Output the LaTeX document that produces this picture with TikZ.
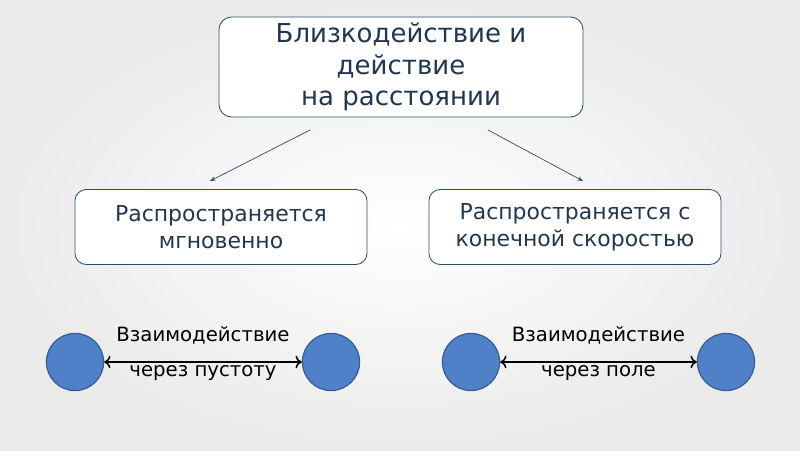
\documentclass[tikz,border=0pt]{standalone}
\usepackage{fontspec}
\setmainfont{DejaVu Sans}
\usetikzlibrary{positioning,arrows.meta}
\definecolor{inkblue}{RGB}{33,55,80}
\definecolor{boxline}{RGB}{45,80,105}
\definecolor{ballfill}{RGB}{79,129,200}
\definecolor{ballline}{RGB}{52,90,145}
\begin{document}
\begin{tikzpicture}[x=0.025cm,y=-0.025cm,
  big box/.style={draw=boxline,fill=white,rounded corners=9pt,line width=0.6pt,
    text=inkblue,align=center,font=\fontsize{18.5}{22.4}\selectfont},
  small box/.style={draw=boxline,fill=white,rounded corners=8pt,line width=0.6pt,
    text=inkblue,align=center,font=\fontsize{15.6}{19.2}\selectfont,
    minimum width=7.3cm,minimum height=1.875cm},
  ball/.style={circle,fill=ballfill,draw=ballline,line width=0.8pt,
    minimum size=1.43cm,inner sep=0pt},
  link/.style={->,>={Stealth[length=4pt,width=3pt]},draw=boxline,line width=0.5pt},
  both/.style={<->,>={To[length=4.5pt,width=9pt]},line width=1.1pt},
  word/.style={inner sep=0pt,font=\fontsize{14}{16}\selectfont}]
% background
  \shade[inner color=white,outer color=black!8] (0,0) rectangle (800,450);
  \useasboundingbox (0,0) rectangle (800,450);
%top
  \node[big box,minimum width=9.1cm,minimum height=2.5cm] (top) at (401,67)
    {Близкодействие и\\действие\\на расстоянии};
%children
  \node[small box] (near) at (221,227) {Распространяется\\мгновенно};
  \node[small box] (far) at (575,227) {Распространяется с\\конечной скоростью};
%arrows
  \coordinate (s1) at (310,130);
  \coordinate (e1) at (210,181);
  \coordinate (s2) at (488,130);
  \coordinate (e2) at (583,181);
  \draw[link] (s1) -- (e1);
  \draw[link] (s2) -- (e2);
%balls, empty space
  \node[ball] (a1) at (75,362) {};
  \node[ball] (a2) at (331,362) {};
  \draw[both] (a1) -- node[word,above=12pt] {Взаимодействие}
    node[word,below=1.8pt] {через пустоту} (a2);
%balls, field
  \node[ball] (b1) at (471,362) {};
  \node[ball] (b2) at (726,362) {};
  \draw[both] (b1) -- node[word,above=12pt] {Взаимодействие}
    node[word,below=1.8pt] {через поле} (b2);
\end{tikzpicture}
\end{document}
